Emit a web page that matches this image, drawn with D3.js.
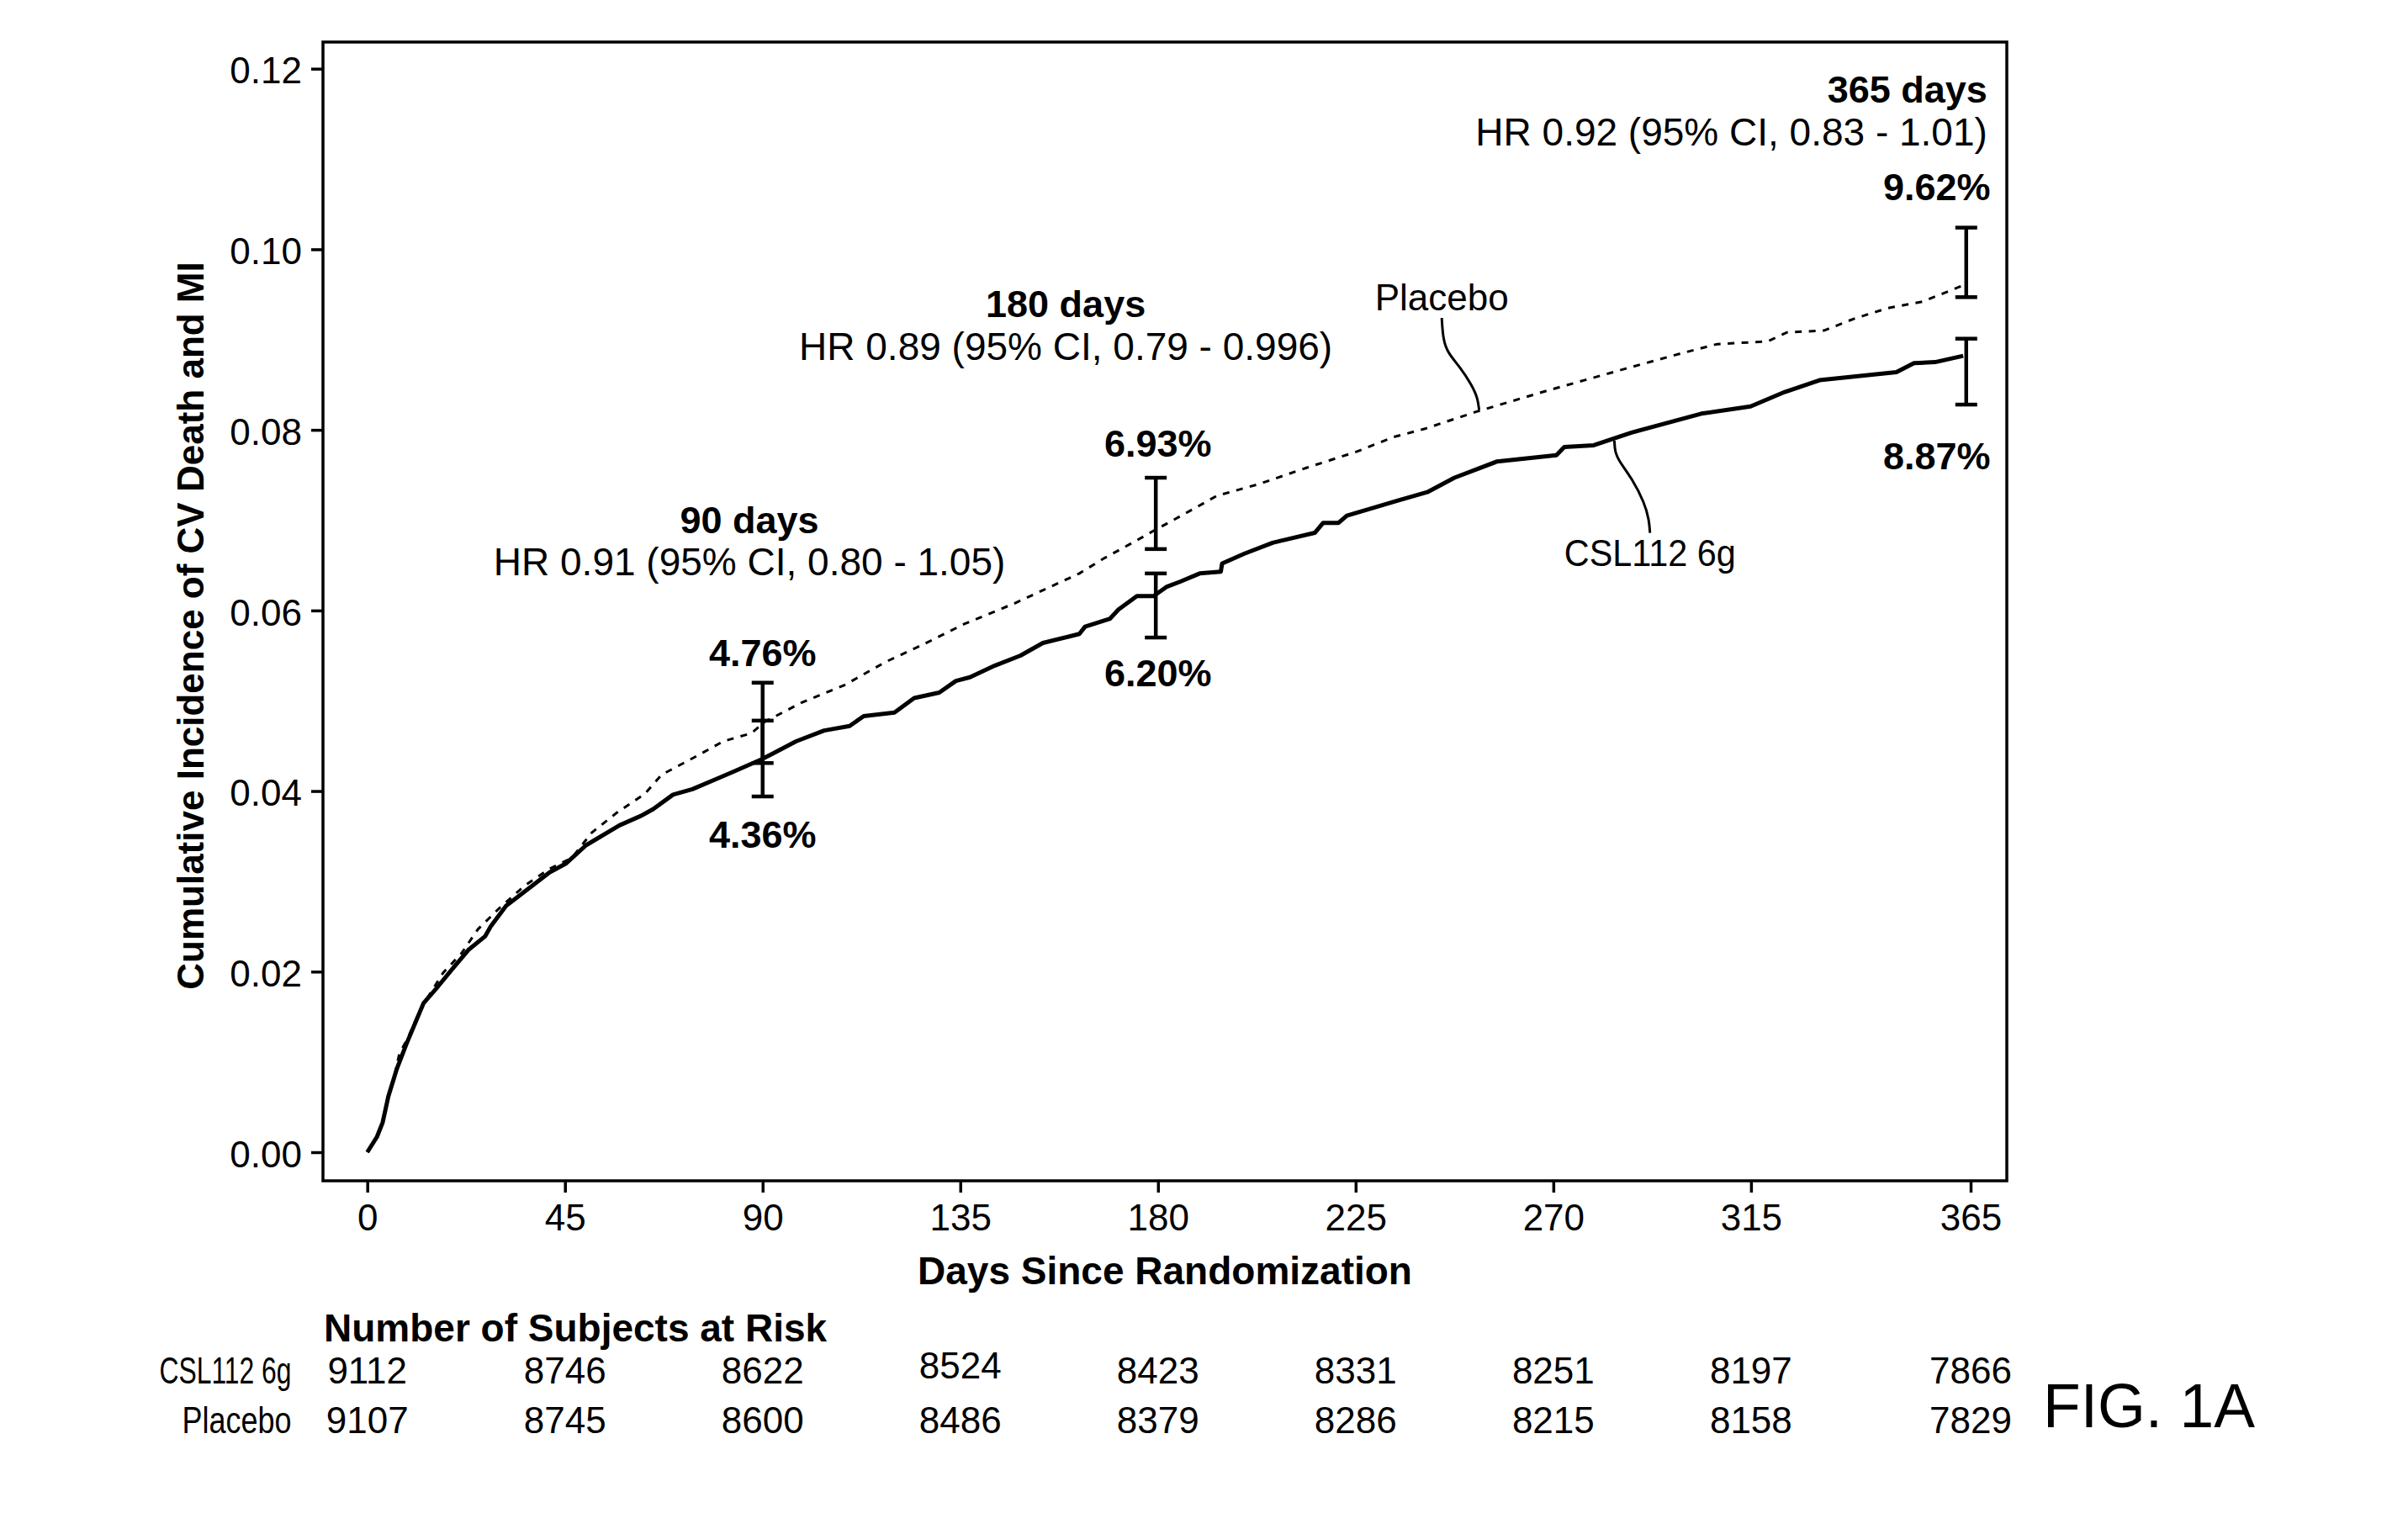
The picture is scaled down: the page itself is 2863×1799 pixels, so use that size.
<!DOCTYPE html>
<html lang="en">
<head>
<meta charset="utf-8">
<title>Cumulative Incidence of CV Death and MI</title>
<script src="https://d3js.org/d3.v7.min.js"></script>
<style>
  body { margin: 0; background: #fff; }
  svg text { font-family: "Liberation Sans", Arial, sans-serif; fill: #000; }
  .axis path { display: none; }
  .axis line { stroke: #000; stroke-width: 3.5; }
  .axis text { font-size: 44px; font-family: "Liberation Sans", Arial, sans-serif; }
  .bold { font-weight: bold; }
</style>
</head>
<body>
<script>
'use strict'

// axis ticks
let dayTicks = [0, 45, 90, 135, 180, 225, 270, 315, 365]
let yTicks = [0, 0.02, 0.04, 0.06, 0.08, 0.10, 0.12]

// cumulative incidence curves
let placeboDays = [0, 2.2, 3.5, 4.2, 4.8, 6.1, 7.3, 9.3, 11.8, 13.7, 17.3, 21.4, 25.2, 30, 35.8, 41.5,
  46.6, 51.1, 56.8, 63.2, 67, 74.7, 81, 87.4, 90.6, 98.9, 108.5, 118, 126.4, 135.9, 147.4, 162.1,
  167.8, 174.2, 179.3, 185.7, 193.4, 203, 213.8, 225.3, 233.6, 240.6, 252.4, 268.3, 286.6, 299.3,
  307.3, 318.8, 323.2, 331.6, 338.4, 346.2, 354, 363.3]
let placeboValues = [0, 0.0017, 0.0033, 0.0050, 0.0064, 0.0082, 0.0109, 0.0127, 0.0155, 0.0171, 0.0199,
  0.0220, 0.0247, 0.0270, 0.0295, 0.0314, 0.0326, 0.0354, 0.0376, 0.0397, 0.0418, 0.0438, 0.0455,
  0.0464, 0.0477, 0.0498, 0.0517, 0.0543, 0.0562, 0.0585, 0.0608, 0.0641, 0.0658, 0.0675, 0.0689,
  0.0706, 0.0727, 0.0740, 0.0758, 0.0776, 0.0792, 0.0801, 0.0820, 0.0843, 0.0868, 0.0885, 0.0895,
  0.0898, 0.0908, 0.0910, 0.0923, 0.0935, 0.0942, 0.0960]

let cslDays = [0, 2.2, 3.5, 4.8, 6.7, 9, 10.9, 12.8, 16, 19.2, 23, 26.8, 28.1, 31.6, 35.1, 41.5, 45.3,
  49.8, 57.4, 62.5, 65.1, 69.6, 74, 79.8, 83.6, 89.7, 92.5, 97.6, 104, 109.8, 113, 120, 124.5, 130.2,
  134, 137.2, 142.9, 148.7, 153.8, 162.1, 163.4, 169.1, 171, 175.2, 179, 181.9, 185.1, 189.5, 194.3,
  194.6, 199.7, 206.1, 215.7, 217.6, 221.1, 223, 228.5, 234.8, 241.3, 247.5, 257.2, 270.7, 272.5,
  279.2, 287.8, 303.7, 314.9, 322.7, 330.6, 348.1, 352.1, 356.9, 363.3]
let cslValues = [0, 0.0017, 0.0033, 0.0062, 0.0092, 0.0121, 0.0143, 0.0165, 0.0183, 0.0202, 0.0224,
  0.0239, 0.0250, 0.0273, 0.0286, 0.0310, 0.0320, 0.0340, 0.0362, 0.0373, 0.0380, 0.0396, 0.0402,
  0.0414, 0.0422, 0.0435, 0.0442, 0.0455, 0.0467, 0.0472, 0.0483, 0.0487, 0.0503, 0.0509, 0.0522,
  0.0526, 0.0539, 0.0550, 0.0564, 0.0574, 0.0582, 0.0591, 0.0601, 0.0616, 0.0616, 0.0626, 0.0632,
  0.0641, 0.0643, 0.0652, 0.0663, 0.0675, 0.0686, 0.0697, 0.0697, 0.0705, 0.0713, 0.0722, 0.0731,
  0.0747, 0.0765, 0.0772, 0.0781, 0.0783, 0.0797, 0.0818, 0.0826, 0.0842, 0.0855, 0.0864, 0.0874,
  0.0875, 0.0882]

// confidence intervals at the milestones
let ciDays = [90, 179.5, 364]
let placeboLow = [0.0431, 0.0668, 0.0947]
let placeboHigh = [0.0520, 0.0747, 0.1024]
let cslLow = [0.0394, 0.0570, 0.0828]
let cslHigh = [0.0478, 0.0641, 0.0901]

// milestone annotations
let milestones = ["90 days", "180 days", "365 days"]
let hrLabels = ["HR 0.91 (95% CI, 0.80 - 1.05)", "HR 0.89 (95% CI, 0.79 - 0.996)", "HR 0.92 (95% CI, 0.83 - 1.01)"]
let placeboPct = ["4.76%", "6.93%", "9.62%"]
let cslPct = ["4.36%", "6.20%", "8.87%"]

// number at risk table
let groups = ["CSL112 6g", "Placebo"]
let cslAtRisk = [9112, 8746, 8622, 8524, 8423, 8331, 8251, 8197, 7866]
let placeboAtRisk = [9107, 8745, 8600, 8486, 8379, 8286, 8215, 8158, 7829]

// ---- layout ----
let w = 2863
let h = 1799
let box = { left: 384, top: 50, right: 2386, bottom: 1404 }

let x = d3.scaleLinear().domain([0, 365]).range([436.7, 2343])
let y = d3.scaleLinear().domain([0, 0.12]).range([1370, 81.7])

let svg = d3.select("body")
  .append("svg")
  .attr("width", w)
  .attr("height", h)

svg.append("rect")
  .attr("width", w)
  .attr("height", h)
  .attr("fill", "#fff")

// squeeze a text horizontally so it fits the width seen in the figure
function narrowText(px, py, str, size, width, anchor) {
  let g = svg.append("g").attr("transform", "translate(" + px + "," + py + ")")
  let t = g.append("text")
    .attr("font-size", size)
    .attr("text-anchor", anchor)
    .text(str)
  let natural = t.node().getComputedTextLength()
  t.attr("transform", "scale(" + (width / natural) + ",1)")
  return t
}

// axes
svg.append("g")
  .attr("class", "axis")
  .attr("transform", "translate(" + box.left + ",0)")
  .call(d3.axisLeft(y).tickValues(yTicks).tickSize(14).tickPadding(11)
    .tickFormat(d3.format(".2f")))
  .selectAll("text").attr("dy", "0.39em")

svg.append("g")
  .attr("class", "axis")
  .attr("transform", "translate(0," + box.bottom + ")")
  .call(d3.axisBottom(x).tickValues(dayTicks).tickSize(14).tickPadding(14))

// frame
svg.append("rect")
  .attr("x", box.left)
  .attr("y", box.top)
  .attr("width", box.right - box.left)
  .attr("height", box.bottom - box.top)
  .attr("fill", "none")
  .attr("stroke", "#000")
  .attr("stroke-width", 3.5)

// axis titles
svg.append("text")
  .attr("class", "bold")
  .attr("x", (box.left + box.right) / 2)
  .attr("y", 1527)
  .attr("text-anchor", "middle")
  .attr("font-size", 46)
  .text("Days Since Randomization")

svg.append("text")
  .attr("class", "bold")
  .attr("transform", "translate(242,744) rotate(-90)")
  .attr("text-anchor", "middle")
  .attr("font-size", 44)
  .text("Cumulative Incidence of CV Death and MI")

// curves
let line = d3.line()
  .x((d) => x(d[0]))
  .y((d) => y(d[1]))

let placeboData = placeboDays.map((d, i) => [d, placeboValues[i]])
let cslData = cslDays.map((d, i) => [d, cslValues[i]])

svg.append("path")
  .datum(cslData)
  .attr("d", line)
  .attr("fill", "none")
  .attr("stroke", "#000")
  .attr("stroke-width", 5)
  .attr("stroke-linejoin", "round")

svg.append("path")
  .datum(placeboData)
  .attr("d", line)
  .attr("fill", "none")
  .attr("stroke", "#000")
  .attr("stroke-width", 3)
  .attr("stroke-dasharray", "8,8.5")

// error bars
let bars = []
ciDays.forEach((d, i) => {
  bars.push([d, placeboLow[i], placeboHigh[i]])
  bars.push([d, cslLow[i], cslHigh[i]])
})

let barG = svg.append("g")
  .attr("stroke", "#000")
  .attr("stroke-width", 4.5)

barG.selectAll(".stem")
  .data(bars)
  .enter()
  .append("line")
  .attr("x1", (d) => x(d[0]))
  .attr("x2", (d) => x(d[0]))
  .attr("y1", (d) => y(d[1]))
  .attr("y2", (d) => y(d[2]))

barG.selectAll(".cap")
  .data(bars.flatMap((d) => [[d[0], d[1]], [d[0], d[2]]]))
  .enter()
  .append("line")
  .attr("x1", (d) => x(d[0]) - 13)
  .attr("x2", (d) => x(d[0]) + 13)
  .attr("y1", (d) => y(d[1]))
  .attr("y2", (d) => y(d[1]))

// milestone text
let milestonePos = [
  { day: 87, head: 0.0686, hr: 0.0639, anchor: "middle" },
  { day: 159, head: 0.0925, hr: 0.0877, anchor: "middle" },
  { day: 368.8, head: 0.1162, hr: 0.1115, anchor: "end" }
]
milestones.forEach((m, i) => {
  let p = milestonePos[i]
  svg.append("text")
    .attr("class", "bold")
    .attr("x", x(p.day))
    .attr("y", y(p.head))
    .attr("text-anchor", p.anchor)
    .attr("font-size", 45)
    .text(m)
  svg.append("text")
    .attr("x", x(p.day))
    .attr("y", y(p.hr))
    .attr("text-anchor", p.anchor)
    .attr("font-size", 46)
    .text(hrLabels[i])
})

let pctPos = [
  { day: 90, up: 0.0538, down: 0.0337, anchor: "middle" },
  { day: 180, up: 0.0770, down: 0.0516, anchor: "middle" },
  { day: 369.5, up: 0.1054, down: 0.0756, anchor: "end" }
]
pctPos.forEach((p, i) => {
  svg.append("text")
    .attr("class", "bold")
    .attr("x", x(p.day))
    .attr("y", y(p.up))
    .attr("text-anchor", p.anchor)
    .attr("font-size", 45)
    .text(placeboPct[i])
  svg.append("text")
    .attr("class", "bold")
    .attr("x", x(p.day))
    .attr("y", y(p.down))
    .attr("text-anchor", p.anchor)
    .attr("font-size", 45)
    .text(cslPct[i])
})

// curve labels with leader lines
let leader = d3.line()
  .x((d) => x(d[0]))
  .y((d) => y(d[1]))
  .curve(d3.curveBasis)

let placeboLeader = [[244.6, 0.0924], [244.9, 0.0900], [246.0, 0.0885], [248.7, 0.0870], [251.4, 0.0850], [252.8, 0.0835], [253.1, 0.0822]]
let cslLeader = [[283.9, 0.0788], [284.0, 0.0776], [285.0, 0.0765], [287.8, 0.0747], [290.8, 0.0719], [291.8, 0.0700], [292, 0.0686]]

svg.selectAll(".leader")
  .data([placeboLeader, cslLeader])
  .enter()
  .append("path")
  .attr("d", leader)
  .attr("fill", "none")
  .attr("stroke", "#000")
  .attr("stroke-width", 3)

svg.append("text")
  .attr("x", x(244.6))
  .attr("y", y(0.0932))
  .attr("text-anchor", "middle")
  .attr("font-size", 44)
  .text(groups[1])

narrowText(x(292), y(0.0649), groups[0], 44, 204, "middle")

// number at risk
svg.append("text")
  .attr("class", "bold")
  .attr("x", 385)
  .attr("y", 1595)
  .attr("font-size", 46)
  .text("Number of Subjects at Risk")

let rows = [
  { label: groups[0], counts: cslAtRisk, base: 1645, width: 157 },
  { label: groups[1], counts: placeboAtRisk, base: 1704, width: 130 }
]
rows.forEach((r, ri) => {
  narrowText(346.5, r.base, r.label, 44, r.width, "end")
  svg.selectAll(".risk" + ri)
    .data(r.counts)
    .enter()
    .append("text")
    .attr("x", (d, i) => x(dayTicks[i]))
    .attr("y", (d, i) => r.base - (ri === 0 && i === 3 ? 6 : 0))
    .attr("text-anchor", "middle")
    .attr("font-size", 44)
    .text((d) => d)
})

narrowText(2429, 1697, "FIG. 1A", 75, 252, "start")
</script>
</body>
</html>
